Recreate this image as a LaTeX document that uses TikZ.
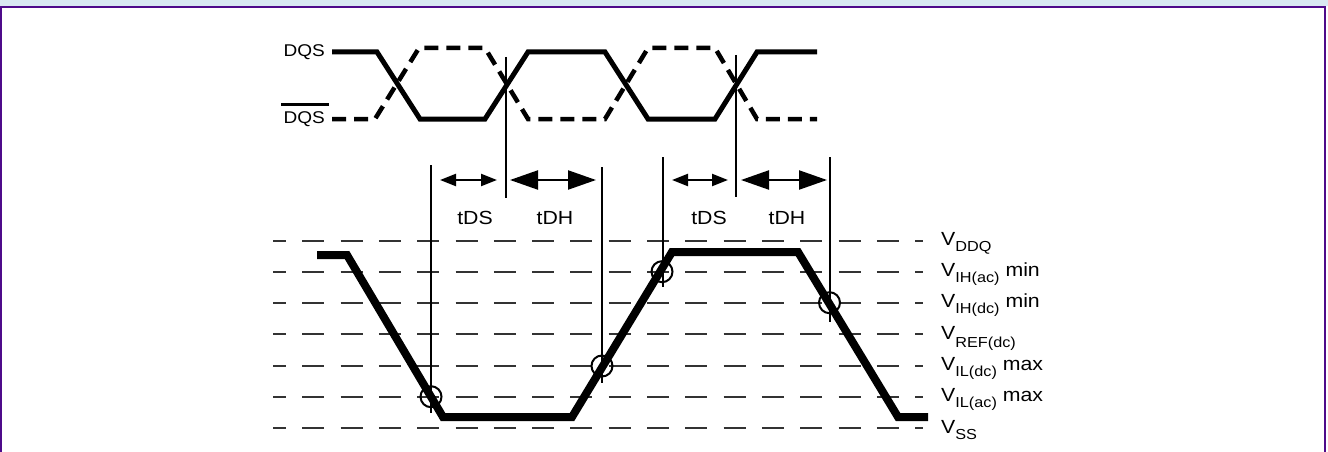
\documentclass[tikz,border=0pt]{standalone}
\usepackage{fontspec}
\setmainfont{Liberation Sans}[FakeStretch=1.12]
\usetikzlibrary{arrows.meta}
\definecolor{bandblue}{HTML}{D9E8F2}
\definecolor{framepurple}{HTML}{4E0A8A}
\newcommand\lvsub[1]{\raisebox{-6pt}{\fontsize{14.5}{16}\selectfont #1}}
\begin{document}
\begin{tikzpicture}[x=1pt,y=-1pt,
  sig/.style={line width=5pt, line join=miter},
  sigbar/.style={line width=4.5pt, dash pattern=on 14pt off 8pt},
  lvl/.style={line width=1.8pt, black!80, dash pattern=on 22pt off 16.3pt, dash phase=9pt},
  wave/.style={line width=8pt, line join=miter},
  vline/.style={line width=1.9pt},
  mark circ/.style={line width=2pt},
  small arr/.style={line width=2.2pt, {Triangle[length=16pt,width=12pt]}-{Triangle[length=16pt,width=12pt]}},
  big arr/.style={line width=2.2pt, {Triangle[length=28pt,width=19pt]}-{Triangle[length=28pt,width=19pt]}},
  lbl/.style={font=\fontsize{19}{21}\selectfont, inner sep=0pt},
  sname/.style={font=\fontsize{17}{20}\selectfont, inner sep=0pt}
]
\useasboundingbox (0,0) rectangle (1328,452);
% frame
\fill[bandblue] (0,0) rectangle (1328,6);
\draw[framepurple, line width=2.5pt] (1,452) -- (1,7.2) -- (1325,7.2) -- (1325,452);

% DQS labels
\node[sname, anchor=base east] (dqs) at (325,57) {DQS};
\node[sname, anchor=base east] (dqsb) at (325,123) {DQS};
\draw[line width=3pt] (281,104) -- (329,104);

% DQS solid
\draw[sig] (332,52) -- (377,52) -- (420,119) -- (485,119) -- (528,52) -- (605,52)
  -- (648,119) -- (715,119) -- (757,52) -- (817,52);
% DQS bar dashed
\draw[sigbar] (332,119) -- (375,119) -- (419,48) -- (485,48) -- (528,119) -- (605,119)
  -- (648,48) -- (715,48) -- (757,119) -- (817,119);

% reference levels
\foreach \yy in {240.7,271.7,302.7,334,365.7,396.7,428.3}{
  \draw[lvl] (273,\yy) -- (923,\yy);
}
\node[lbl, anchor=base west] (vddq) at (941,245.7) {V\lvsub{DDQ}};
\node[lbl, anchor=base west] (vihac) at (941,276.7) {V\lvsub{IH(ac)} min};
\node[lbl, anchor=base west] (vihdc) at (941,307.7) {V\lvsub{IH(dc)} min};
\node[lbl, anchor=base west] (vref) at (941,339) {V\raisebox{-8pt}{\fontsize{14.5}{16}\selectfont REF(dc)}};
\node[lbl, anchor=base west] (vildc) at (941,370.7) {V\lvsub{IL(dc)} max};
\node[lbl, anchor=base west] (vilac) at (941,401.7) {V\lvsub{IL(ac)} max};
\node[lbl, anchor=base west] (vss) at (941,433.3) {V\lvsub{SS}};

% vertical timing lines
\draw[vline] (506,57) -- (506,198);
\draw[vline] (736,55) -- (736,197);
\draw[vline] (431,165) -- (431,413);
\draw[vline] (602,167) -- (602,383);
\draw[vline] (663,157) -- (663,287);
\draw[vline] (830,157) -- (830,322);

% arrows
\draw[small arr] (440,180) -- (497,180);
\draw[big arr] (510,180) -- (596,180);
\draw[small arr] (672,180) -- (728,180);
\draw[big arr] (741,180) -- (827,180);
\node[lbl, anchor=base] (tds1) at (475,224) {tDS};
\node[lbl, anchor=base] (tdh1) at (555,224) {tDH};
\node[lbl, anchor=base] (tds2) at (709,224) {tDS};
\node[lbl, anchor=base] (tdh2) at (787,224) {tDH};

% data waveform
\draw[wave] (317,255) -- (347,255) -- (443,417) -- (572,417) -- (672,252) -- (798,252)
  -- (898,417) -- (928,417);

% circles
\draw[mark circ] (431,396.7) circle[radius=10.5];
\draw[mark circ] (602,366) circle[radius=10.5];
\draw[mark circ] (662,271.7) circle[radius=10.5];
\draw[mark circ] (829.5,302.7) circle[radius=10.5];
\end{tikzpicture}
\end{document}
